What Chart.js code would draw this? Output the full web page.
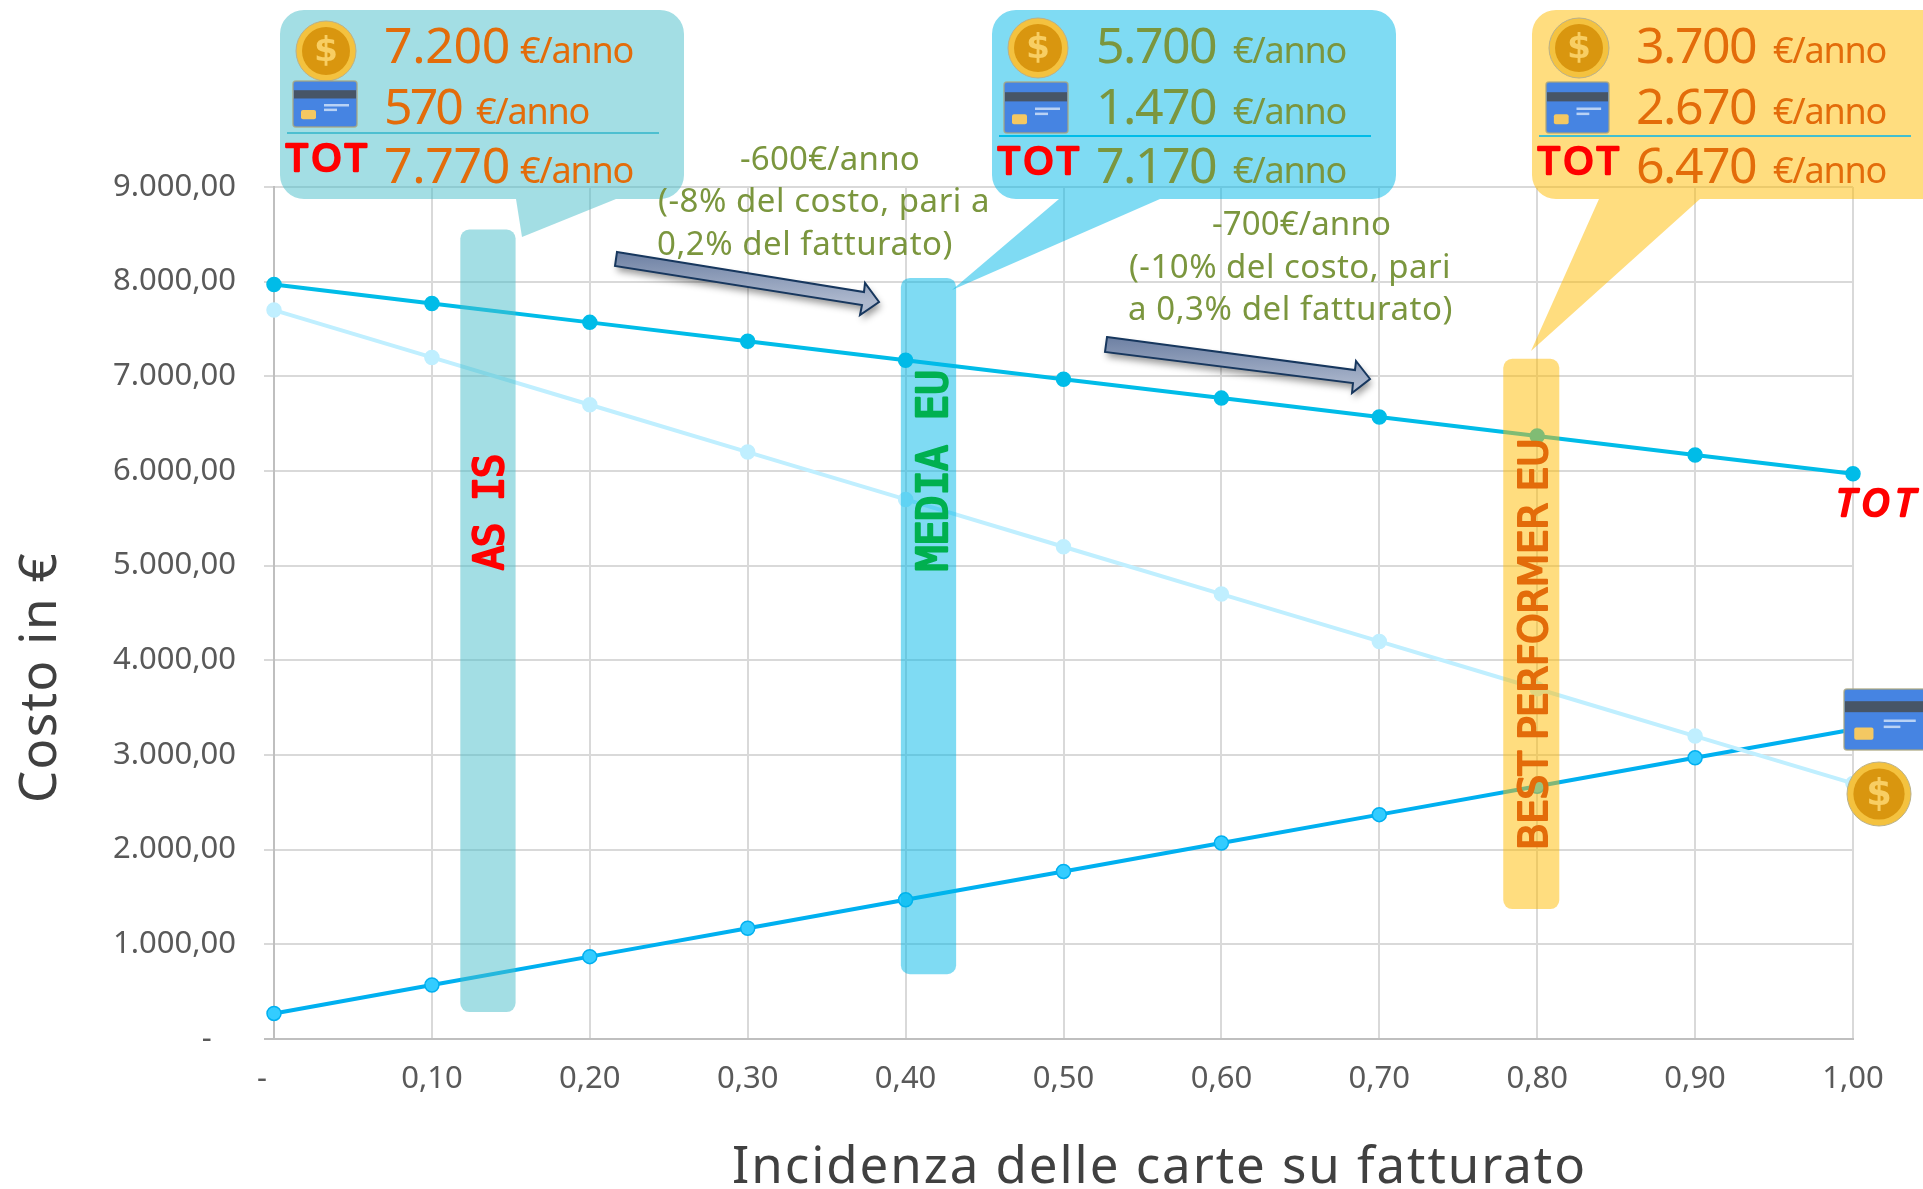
<!DOCTYPE html>
<html><head><meta charset="utf-8">
<style>html,body{margin:0;padding:0;background:#fff}canvas{display:block}</style>
<script src="https://cdn.jsdelivr.net/npm/chart.js@4"></script>
</head><body><canvas id="c" width="1923" height="1189"></canvas>
<script>
const incidenza=[0,0.1,0.2,0.3,0.4,0.5,0.6,0.7,0.8,0.9,1];
const costoTotale=[7970,7770,7570,7370,7170,6970,6770,6570,6370,6170,5970];
const costoCarte=[270,570,870,1170,1470,1770,2070,2370,2670,2970,3270];
const costoContanti=[7700,7200,6700,6200,5700,5200,4700,4200,3700,3200,2700];
const xTickLabels=['-   ','0,10','0,20','0,30','0,40','0,50','0,60','0,70','0,80','0,90','1,00'];
const yTickLabels=['-   ','1.000,00','2.000,00','3.000,00','4.000,00','5.000,00','6.000,00','7.000,00','8.000,00','9.000,00'];
const xTitle='Incidenza delle carte su fatturato';
const yTitle='Costo in €';
const bandNames=['AS IS','MEDIA EU','BEST PERFORMER EU'];
const bandX=[[0.118,0.153],[0.397,0.432],[0.7785,0.814]];
const bandY=[[285,8550],[685,8040],[1373,7185]];
const scenarioContanti=['7.200','5.700','3.700'];
const scenarioCarte=['570','1.470','2.670'];
const scenarioTotale=['7.770','7.170','6.470'];
const savings1=['-600€/anno','(-8% del costo, pari a','0,2% del fatturato)'];
const savings2=['-700€/anno','(-10% del costo, pari','a 0,3% del fatturato)'];

const FF='"Noto Sans", sans-serif', OLIVE='#7B963E', ORANGE='#E36C0A';
const callouts=[
 {l:280,r:684,tail:[516,522,237,616],fill:'rgba(71,189,201,.5)',text:ORANGE,rule:'#4DBFD0',coin:[326,51],card:[293,81,64,46],tot:[285,173],
  numX:384,unitX:[520,476,520],numW:[126,77,126]},
 {l:992,r:1396,tail:[1059,952,290,1160],fill:'rgba(0,183,232,.5)',text:OLIVE,rule:'#00BCE8',coin:[1038,48],card:[1004,82,64,51],tot:[997,176],
  numX:1096,unitX:[1233,1233,1233],numW:[120,120,120]},
 {l:1532,r:1945,tail:[1599,1531,351,1700],fill:'rgba(255,188,0,.5)',text:ORANGE,rule:'#43BFD0',coin:[1579,48],card:[1546,82,63,51],tot:[1537,176],
  numX:1636,unitX:[1773,1773,1773],numW:[120,120,120]}
];
const ruleY=[133,136,136], ruleX=[[287,659],[999,1371],[1539,1911]];

function fit(ctx,t,x,y,font,color,w){
  ctx.save();ctx.font=font;ctx.fillStyle=color;ctx.textBaseline='alphabetic';ctx.textAlign='left';
  ctx.letterSpacing='0px';
  if(w){const m=ctx.measureText(t).width;ctx.letterSpacing=((w-m)/t.length).toFixed(3)+'px';}
  ctx.fillText(t,x,y);ctx.restore();
}
function marker(ctx,t,x,y,font,color,w,angle,sw){
  ctx.save();ctx.translate(x,y);if(angle)ctx.rotate(angle);
  ctx.font=font;ctx.fillStyle=color;ctx.strokeStyle=color;ctx.lineWidth=sw||2;ctx.lineJoin='round';ctx.lineCap='round';
  ctx.textAlign='left';ctx.textBaseline='alphabetic';
  const m=ctx.measureText(t).width;ctx.letterSpacing=((w-m)/t.length).toFixed(3)+'px';
  ctx.strokeText(t,0,0);ctx.fillText(t,0,0);ctx.restore();
}
function coin(ctx,cx,cy,r){
  ctx.save();
  ctx.beginPath();ctx.arc(cx,cy,r,0,7);ctx.fillStyle='#F4C23F';ctx.fill();ctx.lineWidth=1;ctx.strokeStyle='#B9B08A';ctx.stroke();
  ctx.beginPath();ctx.arc(cx,cy,r*.8,0,7);ctx.fillStyle='#D9960F';ctx.fill();
  ctx.font='bold '+(r*1.15)+'px "DejaVu Sans"';ctx.fillStyle='#F8CE63';ctx.textAlign='center';ctx.textBaseline='middle';
  ctx.fillText('$',cx,cy+1);ctx.restore();
}
function card(ctx,x,y,w,h){
  ctx.save();
  ctx.beginPath();ctx.roundRect(x,y,w,h,3);ctx.fillStyle='#4684E2';ctx.fill();ctx.lineWidth=1.5;ctx.strokeStyle='rgba(170,165,125,.8)';ctx.stroke();
  ctx.fillStyle='#475566';ctx.fillRect(x+1,y+h*.2,w-2,h*.18);
  const s=w/64;
  ctx.fillStyle='#F4C862';ctx.beginPath();ctx.roundRect(x+8*s,y+h*.63,15*s,h*.2,2);ctx.fill();
  ctx.fillStyle='#B9D2F5';ctx.fillRect(x+31*s,y+h*.5,25*s,2.5);ctx.fillRect(x+31*s,y+h*.6,13*s,2.5);
  ctx.restore();
}
function bubble(ctx,c){
  const t=10,b=199,rad=24,[a,tx,ty,d]=c.tail;
  ctx.beginPath();ctx.moveTo(c.l+rad,t);ctx.lineTo(c.r-rad,t);ctx.arcTo(c.r,t,c.r,t+rad,rad);ctx.lineTo(c.r,b-rad);ctx.arcTo(c.r,b,c.r-rad,b,rad);
  ctx.lineTo(d,b);ctx.lineTo(tx,ty);ctx.lineTo(a,b);ctx.lineTo(c.l+rad,b);ctx.arcTo(c.l,b,c.l,b-rad,rad);ctx.lineTo(c.l,t+rad);ctx.arcTo(c.l,t,c.l+rad,t,rad);ctx.closePath();
  ctx.fillStyle=c.fill;ctx.fill();
}
function arrow(ctx,p){
  ctx.save();
  ctx.shadowColor='rgba(0,0,0,.4)';ctx.shadowBlur=7;ctx.shadowOffsetX=2;ctx.shadowOffsetY=5;
  const g=ctx.createLinearGradient(0,p[0][1],0,p[0][1]+50);g.addColorStop(0,'#6D80A3');g.addColorStop(1,'#AEB9CE');
  ctx.beginPath();p.forEach((q,i)=>i?ctx.lineTo(q[0],q[1]):ctx.moveTo(q[0],q[1]));ctx.closePath();
  ctx.fillStyle=g;ctx.fill();ctx.shadowColor='transparent';ctx.lineWidth=2;ctx.strokeStyle='#17375E';ctx.lineJoin='miter';ctx.stroke();
  ctx.restore();
}
const overlay={id:'overlay',afterDatasetsDraw(chart){
  const ctx=chart.ctx,x=chart.scales.x,y=chart.scales.y;
  const bandFill=['rgba(71,189,201,.5)','rgba(0,183,232,.5)','rgba(255,188,0,.5)'];
  bandX.forEach((bx,i)=>{
    const l=x.getPixelForValue(bx[0]),r=x.getPixelForValue(bx[1]),t=y.getPixelForValue(bandY[i][1]),b=y.getPixelForValue(bandY[i][0]);
    ctx.beginPath();ctx.roundRect(l,t,r-l,b-t,9);ctx.fillStyle=bandFill[i];ctx.fill();
  });
  marker(ctx,bandNames[0],503,570,'40px "DejaVu Sans Mono"','#FF0000',115,-Math.PI/2,2.4);
  marker(ctx,bandNames[1],947,571,'42px "DejaVu Sans Mono"','#00B050',201,-Math.PI/2,2.4);
  marker(ctx,bandNames[2],1547,850,'39px "DejaVu Sans"',ORANGE,411,-Math.PI/2,2);
  callouts.forEach((c,i)=>{
    bubble(ctx,c);
    const bases=[63,124,183],vals=[scenarioContanti[i],scenarioCarte[i],scenarioTotale[i]];
    vals.forEach((v,j)=>{
      fit(ctx,v,c.numX,bases[j],'50px '+FF,c.text,c.numW[j]);
      fit(ctx,'€/anno',c.unitX[j],bases[j],'36px '+FF,c.text,113);
    });
    ctx.fillStyle=c.rule;ctx.fillRect(ruleX[i][0],ruleY[i]-1,ruleX[i][1]-ruleX[i][0],2);
    coin(ctx,c.coin[0],c.coin[1],30);
    card(ctx,...c.card);
    marker(ctx,'TOT',c.tot[0]+1,c.tot[1]-2,'39px "Noto Sans"','#FF0000',85,0,2.6);
  });
  fit(ctx,savings1[0],740,170,'33px '+FF,OLIVE,180);
  fit(ctx,savings1[1],658,212,'33px '+FF,OLIVE,332);
  fit(ctx,savings1[2],657,255,'33px '+FF,OLIVE,296);
  fit(ctx,savings2[0],1212,235,'33px '+FF,OLIVE,179);
  fit(ctx,savings2[1],1129,278,'33px '+FF,OLIVE,322);
  fit(ctx,savings2[2],1128,320,'33px '+FF,OLIVE,325);
  arrow(ctx,[[617,252],[864,292],[865,283],[879,302],[860,315],[862,305],[615,266]]);
  arrow(ctx,[[1107,337],[1355,370],[1356,361],[1370,379],[1352,393],[1353,383],[1105,352]]);
  marker(ctx,'TOT',1836,516,'italic 39px "Noto Sans"','#FF0000',85,0,2.6);
  card(ctx,1844,689,82,61);
  coin(ctx,1879,794,32);
  fit(ctx,xTitle,732,1183,'51px '+FF,'#404040',855);
  ctx.save();ctx.translate(56,803);ctx.rotate(-Math.PI/2);fit(ctx,yTitle,0,0,'51px '+FF,'#404040',251);ctx.restore();
}};
const toPts=v=>v.map((y,i)=>({x:incidenza[i],y}));
const ds=(label,data,line,fill)=>({label,data:toPts(data),showLine:true,borderColor:line,backgroundColor:fill,pointBorderColor:line,pointBackgroundColor:fill,borderWidth:4,pointRadius:7,pointBorderWidth:1.5,clip:false,tension:0});
new Chart(document.getElementById('c'),{type:'scatter',
 data:{datasets:[
  ds('Contanti',costoContanti,'#C0EFFF','#C0EFFF'),
  ds('Carte',costoCarte,'#00B0F0','#33CCFF'),
  ds('Totale',costoTotale,'#00BCE8','#00BCE8')]},
 options:{responsive:false,animation:false,devicePixelRatio:1,
  layout:{padding:{top:187,right:70,left:0,bottom:0}},
  plugins:{legend:{display:false},tooltip:{enabled:false}},
  scales:{
   x:{type:'linear',min:0,max:1,afterFit:s=>{s.height=150},
      border:{color:'#BFBFBF',width:2},
      grid:{color:'#D9D9D9',lineWidth:2,drawTicks:false},
      ticks:{stepSize:0.1,autoSkip:false,maxRotation:0,padding:22,color:'#595959',font:{family:'Noto Sans',size:31},callback:(v,i)=>xTickLabels[i]}},
   y:{min:0,max:9000,afterFit:s=>{s.width=274},
      border:{color:'#BFBFBF',width:2},
      grid:{color:c=>c.tick&&c.tick.value===0?'#BFBFBF':'#D9D9D9',lineWidth:2,tickLength:10},
      ticks:{stepSize:1000,padding:28,color:'#595959',font:{family:'Noto Sans',size:31},callback:(v,i)=>yTickLabels[i]}}
  }},
 plugins:[overlay]});
</script></body></html>
